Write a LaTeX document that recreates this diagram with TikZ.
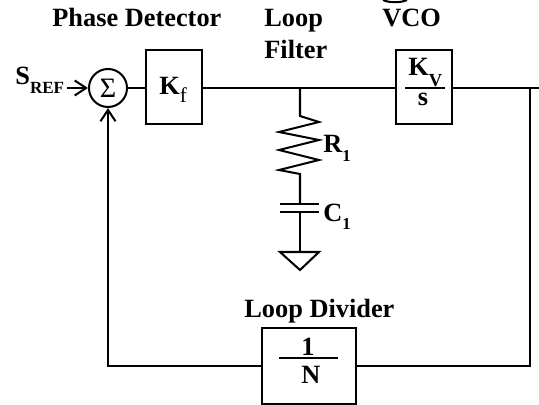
\documentclass[tikz,border=0pt]{standalone}
\usepackage{fontspec}
\setmainfont{Liberation Serif}
\usetikzlibrary{positioning,calc,arrows.meta}
\tikzset{
	blockbox/.style={draw,line width=1.15pt,inner sep=0pt},
	labeltext/.style={font=\fontsize{15}{15}\selectfont\bfseries,inner sep=0pt,anchor=base west},
	fractext/.style={font=\fontsize{15}{15}\selectfont\bfseries,inner sep=0pt,anchor=base},
	wire/.style={line width=1.15pt},
	feed/.style={line width=1.15pt,-{Straight Barb[length=6.5pt,width=8.5pt,line width=1.15pt]}}
}
\newcommand{\lowtext}[3]{\raisebox{-#1pt}{\fontsize{#2}{#2}\selectfont #3}}
\begin{document}
\begin{tikzpicture}[x=0.02cm,y=-0.02cm]
	\useasboundingbox (0,0) rectangle (539,405);
	
	% Summing junction
	\node[circle,draw,line width=1.15pt,minimum size=38*0.02cm,inner sep=0pt,font=\fontsize{16}{16}\selectfont] (summer) at (108,88) {Σ};
	\node[labeltext] (sref) at (15,85) {S\lowtext{5}{9.7}{REF}};
	\coordinate (srefend) at (67,88);
	
	% Phase Detector
	\node[blockbox,minimum width=56*0.02cm,minimum height=74*0.02cm] (detector) at (174,87) {};
	\node[labeltext] (detectorgain) at (159,95) {K\lowtext{4}{12}{\mdseries f}};
	\node[labeltext] (detectorname) at (52,27) {Phase Detector};
	
	% Loop Filter
	\node[labeltext] (loopname) at (264,27) {Loop};
	\node[labeltext] (filtername) at (264,59) {Filter};
	\coordinate (junction) at (300,88);
	\coordinate (resistortop) at (300,116);
	\coordinate (resistorend) at (300,174);
	\node[labeltext] (resistor) at (323,153) {R\lowtext{5}{9.5}{1}};
	\coordinate (platetop) at (300,204);
	\coordinate (platebottom) at (300,212);
	\node[labeltext] (capacitor) at (323,222) {C\lowtext{4}{9.5}{1}};
	\coordinate (ground) at (300,252);
	
	% VCO
	\node[blockbox,minimum width=56*0.02cm,minimum height=74*0.02cm] (vco) at (424,87) {};
	\node[labeltext] (vconame) at (382,27) {VCO};
	\node[labeltext] (vcogain) at (408,76) {K\lowtext{5.7}{10.5}{V}};
	\node[fractext] (vcos) at (423,106) {s};
	\coordinate (tapoint) at (530,88);
	\coordinate (outend) at (539,88);
	\coordinate (crop) at (383,0);
	
	% Loop Divider
	\node[blockbox,minimum width=94*0.02cm,minimum height=76*0.02cm] (divider) at (309,366) {};
	\node[labeltext] (dividername) at (244,318) {Loop Divider};
	\node[fractext] (dividerone) at (308,356) {1};
	\node[fractext] (dividern) at (311,384) {N};
	
	% Connectors
	\draw[feed] (srefend) -- (summer.west);
	\draw[wire] (summer) -- (summer -| detector.west);
	\draw[wire] (junction -| detector.east) -- (junction -| vco.west);
	\draw[wire] (junction -| vco.east) -- (outend);
	\draw[wire] (tapoint) |- (divider);
	\draw[feed] (divider) -| (summer.south);
	
	% Fraction bars
	\draw[wire] (405,88) -- (445,88);
	\draw[wire] (279,358) -- (338,358);
	
	% Filter parts
	\draw[wire] (junction) -- (resistortop) -- ++(19,6) -- ++(-40,10) -- ++(40,8) -- ++(-40,10) -- ++(40,10) -- ++(-40,10) -- (resistorend) -- (platetop);
	\draw[wire] ($(platetop)+(-20,0)$) -- ($(platetop)+(19,0)$);
	\draw[wire] ($(platebottom)+(-20,0)$) -- ($(platebottom)+(19,0)$);
	\draw[wire] (platebottom) -- (ground);
	\draw[wire] ($(ground)+(-20,0)$) -- ($(ground)+(19,0)$) -- ($(ground)+(0,18)$) -- cycle;
	
	% Cut-off arc above VCO
	\draw[wire] (crop) .. controls +(6,3) and +(-6,3) .. ++(24,0);
\end{tikzpicture}
\end{document}
